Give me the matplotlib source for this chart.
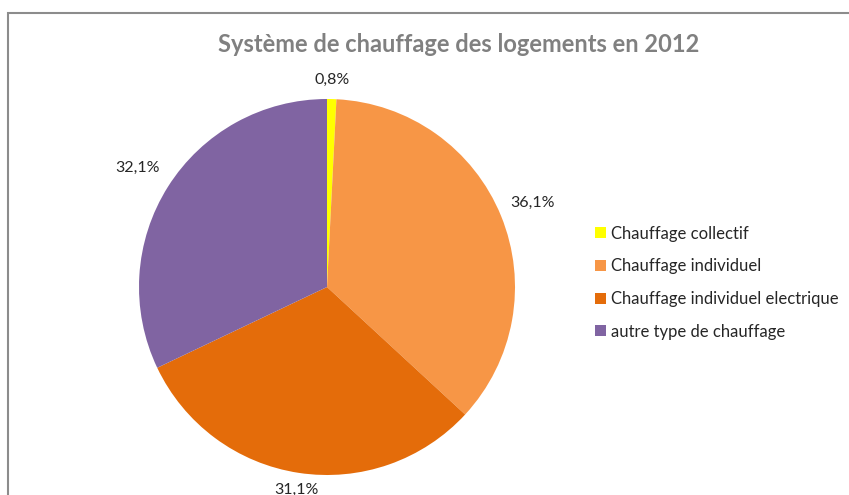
import numpy as np
import matplotlib
matplotlib.use("Agg")
import matplotlib.pyplot as plt
from matplotlib.patches import Rectangle

plt.rcParams["font.family"] = ["Lato", "DejaVu Sans"]

TITLE = "Système de chauffage des logements en 2012"
LABELS = ["Chauffage collectif", "Chauffage individuel",
          "Chauffage individuel electrique", "autre type de chauffage"]
VALUES = [0.8, 36.1, 31.1, 32.1]
COLORS = ["#FFFF00", "#F79646", "#E46C0A", "#8064A2"]
LABEL_DIST = [1.10, 1.18, 1.09, 1.19]

W, H = 849, 495
fig = plt.figure(figsize=(W / 100, H / 100), dpi=100)
ax = fig.add_axes([0, 0, 1, 1])

# chart frame (runs off the right/bottom edge like the reference)
ax.add_patch(Rectangle((8, -5), W, H - 13 + 5, fill=False, ec="#8C8C8C", lw=1.5))

cx, cy, r = 327, H - 287, 188
wedges, _ = ax.pie(VALUES, colors=COLORS, startangle=90, counterclock=False,
                   center=(cx, cy), radius=r, frame=True,
                   wedgeprops=dict(linewidth=0))
ax.set_xlim(0, W)
ax.set_ylim(0, H)
ax.set_aspect("equal")
ax.axis("off")

for w, v, d in zip(wedges, VALUES, LABEL_DIST):
    ang = np.deg2rad((w.theta1 + w.theta2) / 2)
    x = cx + d * r * np.cos(ang)
    y = cy + d * r * np.sin(ang)
    ax.text(x, y, f"{v:.1f}%".replace(".", ","), ha="center", va="center",
            fontsize=11.5, color="#262626")

ax.text(459, H - 45, TITLE, ha="center", va="center", fontsize=17,
        fontweight="bold", color="#808080")

leg = ax.legend(wedges, LABELS, loc="upper left", bbox_to_anchor=(588 / W, 1 - 219 / H),
                frameon=False, fontsize=12, handlelength=0.65, handleheight=0.65,
                handletextpad=0.35, labelspacing=1.0, borderaxespad=0)
for t in leg.get_texts():
    t.set_color("#262626")

fig.savefig("out.png", dpi=100, facecolor="white")
